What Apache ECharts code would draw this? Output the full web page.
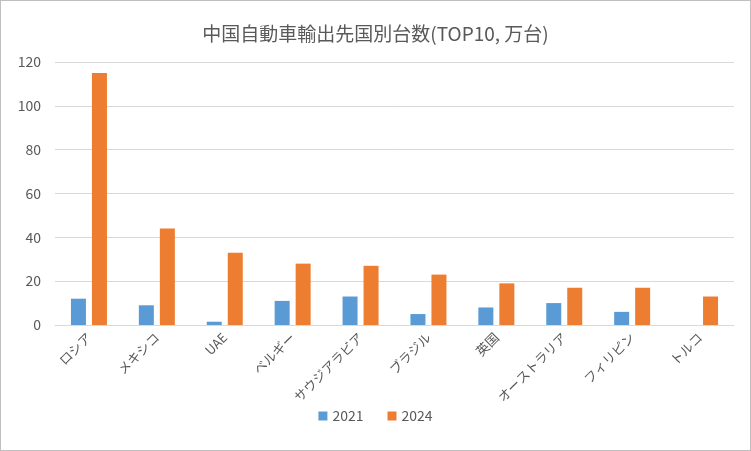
<!DOCTYPE html>
<html>
<head>
<meta charset="utf-8">
<script src="https://cdn.jsdelivr.net/npm/echarts@6/dist/echarts.min.js"></script>
<style>
  html, body { margin: 0; padding: 0; background: #fff; }
  #chart { width: 749px; height: 449px; border: 1px solid #bfbfbf; }
</style>
</head>
<body>
<div id="chart"></div>
<script>
const categories = ["ロシア", "メキシコ", "UAE", "ベルギー", "サウジアラビア", "ブラジル", "英国", "オーストラリア", "フィリピン", "トルコ"];
const values2021 = [12, 9, 1.5, 11, 13, 5, 8, 10, 6, 0];
const values2024 = [115, 44, 33, 28, 27, 23, 19, 17, 17, 13];

const chart = echarts.init(document.getElementById('chart'));
const font = '"Noto Sans CJK JP", "Noto Sans", sans-serif';

chart.setOption({
    textStyle: { fontFamily: font },
    title: {
        text: '中国自動車輸出先国別台数(TOP10, 万台)',
        left: 'center',
        top: 18,
        textStyle: { fontSize: 19, fontWeight: 'normal', color: '#595959', fontFamily: font }
    },
    legend: {
        data: ['2021', '2024'],
        bottom: 22,
        itemWidth: 9,
        itemHeight: 9,
        itemGap: 24,
        icon: 'rect',
        textStyle: { fontSize: 14, color: '#595959' }
    },
    grid: { left: 54, right: 16, top: 61, bottom: 125 },
    xAxis: {
        type: 'category',
        data: categories,
        axisLine: { lineStyle: { color: '#d9d9d9' } },
        axisTick: { show: false },
        axisLabel: { rotate: 45, color: '#595959', fontSize: 13, margin: 10 }
    },
    yAxis: {
        type: 'value',
        min: 0,
        max: 120,
        interval: 20,
        axisLine: { show: false },
        axisTick: { show: false },
        splitLine: { lineStyle: { color: '#d9d9d9' } },
        axisLabel: { color: '#595959', fontSize: 14, margin: 14 }
    },
    series: [
        {
            name: '2021',
            type: 'bar',
            data: values2021,
            barWidth: 15,
            barGap: '40%',
            itemStyle: { color: '#5b9bd5' }
        },
        {
            name: '2024',
            type: 'bar',
            data: values2024,
            barWidth: 15,
            itemStyle: { color: '#ed7d31' }
        }
    ]
});
</script>
</body>
</html>
